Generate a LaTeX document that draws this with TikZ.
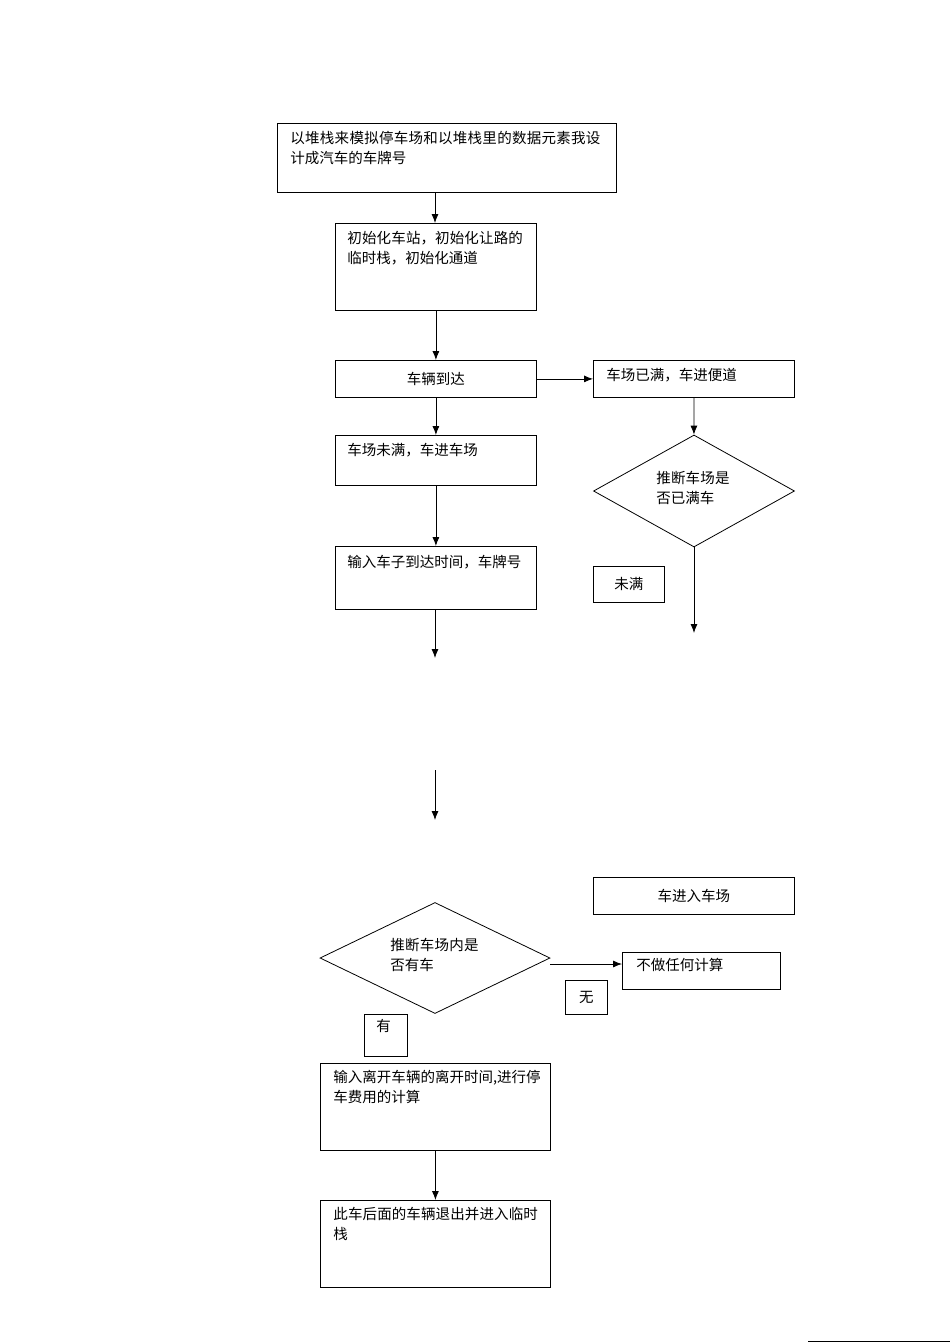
\documentclass[tikz,border=0pt]{standalone}
\usepackage{fontspec}
\setmainfont{Noto Sans CJK SC}
\XeTeXlinebreaklocale "zh"
\XeTeXlinebreakskip=0pt plus 1pt
\usetikzlibrary{shapes.geometric, arrows.meta}
\tikzset{
  box/.style={draw, rectangle, anchor=north west, inner sep=0pt},
  txt/.style={anchor=north west, align=left, inner sep=0pt, font=\fontsize{14.5}{20}\selectfont},
  arr/.style={draw, -{Latex[length=9pt, width=7pt]}},
}
\begin{document}
\begin{tikzpicture}[x=1pt, y=-1pt, line width=0.8pt]
        \useasboundingbox (0,0) rectangle (950,1344);

        % boxes of the arrival part
        \node[box, minimum width=339, minimum height=69] (top) at (277,123) {};
        \node[txt, text width=318] at (290,131) {以堆栈来模拟停车场和以堆栈里的数据元素我设计成汽车的车牌号};
        \node[box, minimum width=201, minimum height=87] (init) at (335,223) {};
        \node[txt, text width=180] at (347,231) {初始化车站，初始化让路的临时栈，初始化通道};
        \node[box, minimum width=201, minimum height=37] (arrive) at (335,360) {};
        \node[font=\fontsize{14.5}{20}\selectfont] at (arrive.center) {车辆到达};
        \node[box, minimum width=201, minimum height=37] (full) at (593,360) {};
        \node[txt] at (606,368) {车场已满，车进便道};
        \node[box, minimum width=201, minimum height=50] (notfull) at (335,435) {};
        \node[txt] at (347,443) {车场未满，车进车场};
        \node[draw, diamond, minimum width=201, minimum height=112, inner sep=0pt] (check) at (694,491) {};
        \node[txt, text width=78] at (656,471) {推断车场是否已满车};
        \node[box, minimum width=201, minimum height=63] (input) at (335,546) {};
        \node[txt, text width=182] at (347,555) {输入车子到达时间，车牌号};
        \node[box, minimum width=71, minimum height=36] (nf) at (593,566) {};
        \node[font=\fontsize{14.5}{20}\selectfont] at (nf.center) {未满};
        \coordinate (s1) at (694,547);
        \coordinate (e1) at (694,633);
        \coordinate (s2) at (435,609);
        \coordinate (e2) at (435,658);
        \coordinate (s3) at (435,770);
        \coordinate (e3) at (435,820);

        % boxes of the leaving part
        \node[box, minimum width=201, minimum height=37] (enter) at (593,877) {};
        \node[font=\fontsize{14.5}{20}\selectfont] at (enter.center) {车进入车场};
        \node[draw, diamond, minimum width=230, minimum height=111, inner sep=0pt] (any) at (435,958) {};
        \node[txt, text width=96] at (390,938) {推断车场内是否有车};
        \node[box, minimum width=158, minimum height=37] (none) at (622,952) {};
        \node[txt] at (636,958) {不做任何计算};
        \node[box, minimum width=42, minimum height=34] (no) at (565,980) {};
        \node[font=\fontsize{14.5}{20}\selectfont] at (no.center) {无};
        \node[box, minimum width=43, minimum height=42] (yes) at (364,1014) {};
        \node[txt] at (376,1019) {有};
        \node[box, minimum width=230, minimum height=87] (leave) at (320,1063) {};
        \node[txt, text width=208] at (333,1070) {输入离开车辆的离开时间,进行停车费用的计算};
        \node[box, minimum width=230, minimum height=87] (back) at (320,1200) {};
        \node[txt, text width=208] at (333,1207) {此车后面的车辆退出并进入临时栈};
        \coordinate (s4) at (550,964);
        \coordinate (e4) at (622,964);

        % connectors
        \draw[arr] (435,192) -- (435,223);
        \draw[arr] (init) -- (arrive);
        \draw[arr] (arrive) -- (notfull);
        \draw[arr] (arrive.east) -- (full.west);
        \draw[arr] (full) -- (check);
        \draw[arr] (s1) -- (e1);
        \draw[arr] (s2) -- (e2);
        \draw[arr] (s3) -- (e3);
        \draw[arr] (notfull) -- (input);
        \draw[arr] (s4) -- (e4);
        \draw[arr] (leave) -- (back);
        \draw (808,1341) -- (950,1341);
    \end{tikzpicture}
\end{document}
